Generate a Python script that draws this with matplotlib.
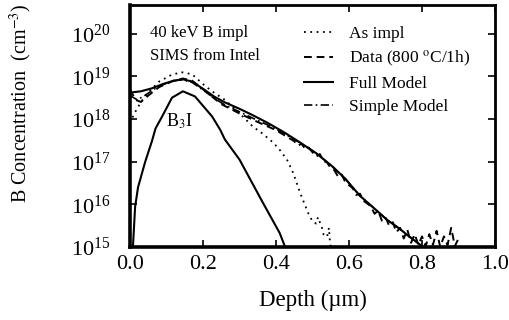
import numpy as np
import matplotlib
matplotlib.use("Agg")
import matplotlib.pyplot as plt
from matplotlib.ticker import LogLocator, LogFormatterMathtext

plt.rcParams['font.family'] = ['Liberation Serif', 'DejaVu Serif']
plt.rcParams['mathtext.fontset'] = 'stix'

# depth in um, concentration as log10(cm^-3)
full_x = [0.0, 0.03, 0.06, 0.09, 0.12, 0.145, 0.17, 0.205, 0.23, 0.26, 0.30, 0.334,
          0.375, 0.42, 0.466, 0.51, 0.553, 0.59, 0.63, 0.67, 0.704, 0.74, 0.76, 0.78, 0.80]
full_y = [18.62, 18.65, 18.72, 18.82, 18.90, 18.93, 18.88, 18.68, 18.53, 18.39, 18.24, 18.10,
          17.92, 17.70, 17.45, 17.20, 16.90, 16.60, 16.20, 15.90, 15.64, 15.42, 15.28, 15.15, 15.02]

simple_x = [0.0, 0.02, 0.04, 0.07, 0.10, 0.13, 0.145, 0.17, 0.205, 0.23, 0.26, 0.30, 0.334,
            0.375, 0.42, 0.466, 0.51, 0.553, 0.59, 0.63, 0.67, 0.704, 0.74, 0.76, 0.78, 0.80]
simple_y = [18.55, 18.45, 18.55, 18.72, 18.84, 18.91, 18.92, 18.86, 18.65, 18.49, 18.33, 18.17, 18.03,
            17.87, 17.67, 17.44, 17.20, 16.90, 16.60, 16.20, 15.90, 15.64, 15.42, 15.28, 15.15, 15.02]

data_x = [0.0, 0.015, 0.03, 0.05, 0.08, 0.12, 0.145, 0.17, 0.20, 0.25, 0.30, 0.35, 0.40,
          0.45, 0.46, 0.47, 0.48, 0.49, 0.50, 0.51, 0.52, 0.53, 0.54, 0.55, 0.56, 0.57, 0.58,
          0.59, 0.60, 0.61, 0.62, 0.63, 0.64, 0.65, 0.66, 0.67, 0.68, 0.69, 0.70, 0.71, 0.72,
          0.73, 0.74, 0.75, 0.76, 0.77, 0.78, 0.79, 0.80, 0.81, 0.82, 0.83, 0.84, 0.85, 0.86,
          0.87, 0.88, 0.89, 0.90]
data_y = [18.70, 18.45, 18.40, 18.55, 18.75, 18.90, 18.95, 18.90, 18.70, 18.35, 18.13, 17.93, 17.74,
          17.48, 17.38, 17.42, 17.30, 17.33, 17.22, 17.12, 17.18, 17.02, 16.98, 16.85, 16.80, 16.65, 16.70,
          16.52, 16.45, 16.38, 16.22, 16.25, 16.08, 16.02, 15.95, 15.78, 15.85, 15.62, 15.70, 15.50, 15.58,
          15.35, 15.45, 15.20, 15.40, 15.10, 15.30, 15.05, 15.25, 15.02, 15.30, 15.05, 15.38, 15.00, 15.25,
          15.05, 15.45, 15.02, 15.20]

impl_x = [0.0, 0.01, 0.03, 0.05, 0.08, 0.11, 0.14, 0.17, 0.205, 0.23, 0.26, 0.29, 0.31, 0.337,
          0.36, 0.392, 0.41, 0.43, 0.447, 0.466, 0.488, 0.50, 0.51, 0.515, 0.526, 0.53, 0.54,
          0.545, 0.548, 0.55]
impl_y = [17.90, 18.10, 18.40, 18.62, 18.88, 19.02, 19.10, 19.05, 18.78, 18.62, 18.45, 18.22, 18.05, 17.82,
          17.68, 17.45, 17.28, 17.05, 16.74, 16.27, 15.80, 15.60, 15.55, 15.70, 15.45, 15.30, 15.24,
          15.45, 15.10, 15.00]

b3i_x = [0.008, 0.014, 0.022, 0.041, 0.06, 0.07, 0.088, 0.115, 0.145, 0.178, 0.225, 0.247,
         0.26, 0.30, 0.364, 0.41, 0.425]
b3i_y = [15.0, 15.94, 16.40, 16.98, 17.48, 17.78, 18.06, 18.50, 18.65, 18.53, 18.06, 17.75,
         17.52, 17.05, 16.04, 15.33, 15.0]

fig = plt.figure(figsize=(5.09, 3.20), dpi=100)
ax = fig.add_axes([0.2554, 0.228, 0.7171, 0.756])

ax.plot(impl_x, 10 ** np.array(impl_y), color='black', lw=1.3, ls=(0, (1, 2.5)), label='As impl')
ax.plot(data_x, 10 ** np.array(data_y), color='black', lw=1.4, ls=(0, (4, 2.5)),
        label='Data (800 $^{\\mathrm{o}}$C/1h)')
ax.plot(full_x, 10 ** np.array(full_y), color='black', lw=1.5, label='Full Model')
ax.plot(simple_x, 10 ** np.array(simple_y), color='black', lw=1.2, ls=(0, (5, 2, 1, 2)),
        label='Simple Model')
ax.plot(b3i_x, 10 ** np.array(b3i_y), color='black', lw=1.5)

ax.set_yscale('log')
ax.set_xlim(0, 1.0)
ax.set_ylim(1e15, 10 ** 20.67)
ax.yaxis.set_major_locator(LogLocator(base=10, numticks=10))
ax.yaxis.set_major_formatter(LogFormatterMathtext())
ax.yaxis.set_minor_locator(plt.NullLocator())
ax.set_xticks([0, 0.2, 0.4, 0.6, 0.8, 1.0])
ax.set_xticklabels(['0.0', '0.2', '0.4', '0.6', '0.8', '1.0'])
ax.tick_params(direction='in', length=5, width=1.2, top=True, right=True, labelsize=16)
ax.tick_params(axis='x', pad=6)
ax.tick_params(axis='y', pad=14)

for side in ['left', 'bottom']:
    ax.spines[side].set_linewidth(2.6)
for side in ['top', 'right']:
    ax.spines[side].set_linewidth(2.0)

ax.set_xlabel('Depth (\u00b5m)', fontsize=16.5)
ax.xaxis.set_label_coords(0.5, -0.178)
ax.set_ylabel('B Concentration  (cm$^{-3}$)', fontsize=14.5)
ax.yaxis.set_label_coords(-0.262, 0.595)

ax.text(0.055, 0.885, '40 keV B impl', transform=ax.transAxes, fontsize=12, va='center')
ax.text(0.055, 0.79, 'SIMS from Intel', transform=ax.transAxes, fontsize=12, va='center')
ax.text(0.10, 0.52, 'B$_3$I', transform=ax.transAxes, fontsize=13, va='center')

ax.legend(loc='upper left', bbox_to_anchor=(0.452, 0.95), frameon=False, fontsize=12.5,
          handlelength=1.7, handletextpad=0.9, labelspacing=0.4, borderpad=0)

fig.savefig('out.png', dpi=100)
